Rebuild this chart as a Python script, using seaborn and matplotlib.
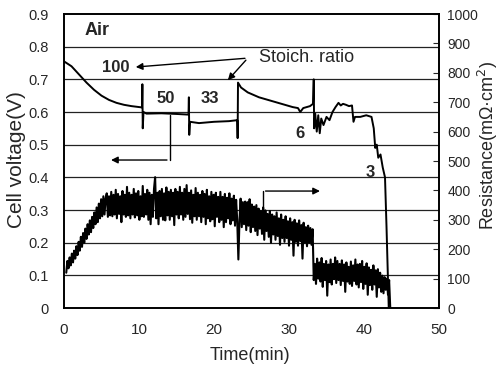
import matplotlib
matplotlib.use("Agg")
import matplotlib.pyplot as plt
import numpy as np
import seaborn as sns

# cell voltage (V) vs time (min)
volt_time = [0.0, 1.0, 2.0, 3.0, 4.0, 5.0, 6.0, 7.0, 8.0, 9.0, 10.4, 10.45, 10.5, 10.6,
             11.0, 13.0, 15.0, 16.6, 16.65, 16.7, 16.8, 18.0, 20.0, 22.0, 23.1, 23.15,
             23.2, 23.6, 24.5, 26.0, 27.5, 29.0, 30.5, 31.2, 31.5, 31.9, 32.8, 33.2,
             33.3, 33.35, 33.5, 33.7, 33.9, 34.1, 34.3, 34.6, 35.0, 35.4, 35.8, 36.2,
             36.6, 36.9, 37.2, 37.6, 38.0, 38.4, 38.6, 38.8, 39.5, 40.3, 41.0, 41.3,
             41.5, 41.7, 41.9, 42.2, 42.5, 42.8, 43.0, 43.3]
volt_values = [0.755, 0.74, 0.715, 0.69, 0.668, 0.65, 0.637, 0.628, 0.622, 0.618, 0.614, 0.685, 0.55, 0.60,
               0.595, 0.596, 0.594, 0.592, 0.645, 0.53, 0.57, 0.566, 0.57, 0.572, 0.575, 0.52,
               0.69, 0.675, 0.66, 0.645, 0.635, 0.625, 0.615, 0.612, 0.60, 0.612, 0.618, 0.625,
               0.70, 0.55, 0.595, 0.54, 0.59, 0.535, 0.58, 0.56, 0.585, 0.575, 0.60, 0.615,
               0.628, 0.62, 0.625, 0.622, 0.618, 0.62, 0.57, 0.585, 0.585, 0.59, 0.585, 0.55,
               0.49, 0.50, 0.46, 0.47, 0.43, 0.40, 0.25, 0.0]

# resistance (mOhm cm2), logged every 0.15 min from t = 0.3 min
res_values = [
    120, 160, 135, 172, 145, 185, 155, 195, 168, 210, 180, 225, 195, 242, 208, 255, 222, 270, 235, 285,
    250, 298, 258, 310, 272, 325, 285, 342, 292, 355, 305, 370, 312, 380, 318, 372, 390, 310, 380, 315,
    395, 312, 385, 318, 402, 305, 388, 320, 380, 292, 398, 318, 385, 310, 412, 315, 392, 305, 385, 318,
    405, 308, 390, 315, 398, 300, 380, 312, 415, 310, 388, 318, 402, 300, 392, 285, 385, 310, 405, 445,
    305, 392, 285, 398, 312, 405, 300, 390, 298, 410, 315, 395, 300, 402, 312, 392, 282, 405, 318, 395,
    305, 412, 318, 392, 300, 405, 310, 418, 320, 392, 302, 400, 290, 385, 312, 408, 300, 392, 312, 385,
    292, 398, 310, 388, 285, 402, 305, 380, 295, 395, 302, 385, 278, 392, 310, 378, 292, 395, 300, 378,
    275, 388, 292, 375, 305, 390, 285, 372, 298, 382, 280, 368, 295, 165, 300, 372, 275, 360, 285, 362,
    265, 360, 280, 370, 258, 352, 275, 345, 262, 350, 248, 338, 270, 330, 252, 342, 232, 332, 262, 320,
    242, 330, 222, 318, 250, 312, 232, 325, 245, 305, 215, 318, 238, 300, 225, 312, 238, 295, 212, 305,
    232, 292, 178, 300, 225, 288, 212, 298, 228, 282, 168, 290, 222, 275, 210, 280, 222, 272, 215, 268,
    95, 150, 82, 168, 100, 155, 90, 170, 72, 150, 95, 160, 42, 148, 88, 165, 80, 150, 98, 172,
    85, 160, 95, 150, 78, 162, 92, 148, 55, 155, 90, 140, 82, 158, 75, 145, 92, 165, 80, 148,
    70, 150, 88, 160, 65, 140, 82, 152, 45, 138, 78, 130, 62, 145, 80, 128, 38, 132, 70, 120,
    55, 110, 50, 105, 62, 100, 45, 95, 0,
]
res_time = 0.3 + 0.15 * np.arange(len(res_values))

volt_ticks = [0, 0.1, 0.2, 0.3, 0.4, 0.5, 0.6, 0.7, 0.8, 0.9]
volt_labels = ["0", "0.1", "0.2", "0.3", "0.4", "0.5", "0.6", "0.7", "0.8", "0.9"]
res_ticks = [0, 100, 200, 300, 400, 500, 600, 700, 800, 900, 1000]
time_ticks = [0, 10, 20, 30, 40, 50]

sns.set_style("white")
plt.rcParams["font.family"] = ["Liberation Sans", "DejaVu Sans"]

fig = plt.figure(figsize=(5.01, 3.74), dpi=100)
ax = fig.add_axes([64 / 501, 66 / 374, 375 / 501, 294 / 374])

sns.lineplot(x=volt_time, y=volt_values, ax=ax, sort=False, estimator=None,
             color="black", linewidth=1.4)

ax.set_xlim(0, 50)
ax.set_ylim(0, 0.9)
ax.set_xticks(time_ticks)
ax.set_yticks(volt_ticks)
ax.set_yticklabels(volt_labels)
ax.set_xlabel("")
ax.set_ylabel("")
for v in volt_ticks[1:-1]:
    ax.axhline(v, color="#222222", linewidth=0.9, zorder=0)
ax.tick_params(axis="y", length=0, pad=11, labelsize=10.5)
ax.tick_params(axis="x", direction="in", length=4, width=0.8, pad=11, labelsize=11)
for s in ax.spines.values():
    s.set_linewidth(1.2)
    s.set_color("black")

ax2 = ax.twinx()
sns.lineplot(x=res_time, y=res_values, ax=ax2, sort=False, estimator=None,
             color="black", linewidth=1.5)
ax2.set_ylim(0, 1000)
ax2.set_yticks(res_ticks)
ax2.set_ylabel("")
ax2.tick_params(axis="y", direction="in", length=4, width=0.8, pad=6, labelsize=10)
for s in ax2.spines.values():
    s.set_linewidth(1.2)
    s.set_color("black")

# text annotations
ax.text(2.8, 0.85, "Air", fontsize=13, fontweight="bold", va="center", ha="left")
ax.text(6.9, 0.737, "100", fontsize=12, fontweight="bold", va="center", ha="center")
ax.text(13.6, 0.642, "50", fontsize=12, fontweight="bold", va="center", ha="center")
ax.text(19.5, 0.642, "33", fontsize=12, fontweight="bold", va="center", ha="center")
ax.text(31.5, 0.535, "6", fontsize=12, fontweight="bold", va="center", ha="center")
ax.text(40.9, 0.416, "3", fontsize=12, fontweight="bold", va="center", ha="center")
ax.text(32.4, 0.768, "Stoich. ratio", fontsize=13, va="center", ha="center")

arrow = dict(arrowstyle="-|>", color="black", linewidth=1.0, mutation_scale=10)
ax.annotate("", xy=(9.2, 0.737), xytext=(24.5, 0.765), arrowprops=arrow)
ax.annotate("", xy=(21.6, 0.691), xytext=(24.5, 0.765), arrowprops=arrow)

# axis pointer arrows
ax.plot([14.1, 14.1], [0.59, 0.453], color="black", linewidth=1.0)
ax.annotate("", xy=(5.9, 0.453), xytext=(14.1, 0.453), arrowprops=arrow)
ax.plot([26.5, 26.5], [0.29, 0.358], color="black", linewidth=1.0)
ax.annotate("", xy=(34.5, 0.358), xytext=(26.5, 0.358), arrowprops=arrow)

# axis titles
fig.text(17 / 501, 1 - 160 / 374, "Cell voltage(V)", rotation=90, fontsize=15,
         ha="center", va="center")
fig.text(488 / 501, 1 - 145 / 374, "Resistance(m\u03a9\u00b7cm$^2$)", rotation=90, fontsize=13,
         ha="center", va="center")
fig.text(250 / 501, 1 - 356 / 374, "Time(min)", fontsize=13, ha="center", va="center")

fig.savefig("out.png", dpi=100)
